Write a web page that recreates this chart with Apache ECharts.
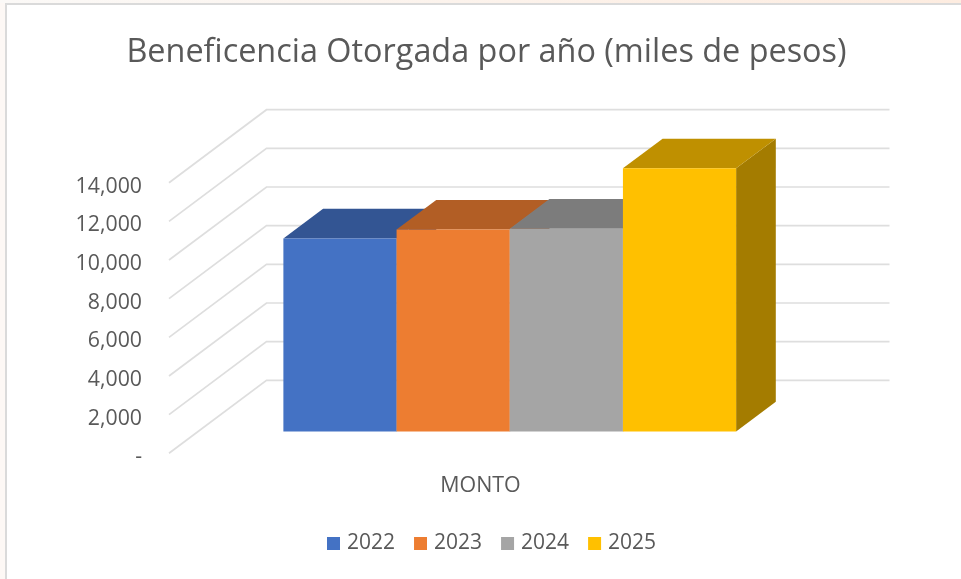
<!DOCTYPE html>
<html>
<head>
<meta charset="utf-8">
<style>html,body{margin:0;padding:0;background:#fff}#c{width:961px;height:579px}</style>
<script src="https://cdn.jsdelivr.net/npm/echarts@6/dist/echarts.min.js"></script>
</head>
<body>
<div id="c"></div>
<script>
const titleText = 'Beneficencia Otorgada por año (miles de pesos)';
const categories = ['MONTO'];
const years = ['2022', '2023', '2024', '2025'];
const values2022 = [9980];
const values2023 = [10440];
const values2024 = [10490];
const values2025 = [13610];
const yTicks = [0, 2000, 4000, 6000, 8000, 10000, 12000, 14000];
const frontColors = ['#4472C4', '#ED7D31', '#A5A5A5', '#FFC000'];
const topColors = ['#335593', '#B25E25', '#7C7C7C', '#BF9000'];
const sideColors = ['#2C4A80', '#9A5120', '#6B6B6B', '#A47C00'];
const seriesValues = [values2022, values2023, values2024, values2025];

// 3D projection constants
const WALL_DX = 97.5, WALL_DY = -73;      // full floor depth
const BAR_T0 = 0.30, BAR_T1 = 0.707;      // bar depth range within the floor
const BAR_SPAN = 0.7267;                  // share of the band taken by the bars

const textColor = '#595959';
const fontFamily = '"Open Sans","Noto Sans",sans-serif';

function renderGrid(params, api) {
  const p = api.coord([0, api.value(0)]);
  const cs = params.coordSys;
  const style = { stroke: '#DEDEDE', lineWidth: 1.7, fill: null };
  return {
    type: 'polyline',
    silent: true,
    shape: { points: [[cs.x, p[1]], [cs.x + WALL_DX, p[1] + WALL_DY], [cs.x + cs.width + WALL_DX, p[1] + WALL_DY]] },
    style
  };
}

function makeBarRenderer(i) {
  return function (params, api) {
    const top = api.coord([0, api.value(1)]);
    const base = api.coord([0, 0]);
    const band = api.size([1, 0])[0];
    const w = band * BAR_SPAN / years.length;
    const x0 = top[0] - band * BAR_SPAN / 2 + i * w + WALL_DX * BAR_T0;
    const x1 = x0 + w;
    const yT = top[1] + WALL_DY * BAR_T0;
    const yB = base[1] + WALL_DY * BAR_T0;
    const dx = WALL_DX * (BAR_T1 - BAR_T0);
    const dy = WALL_DY * (BAR_T1 - BAR_T0);
    return {
      type: 'group',
      children: [
        { type: 'polygon', shape: { points: [[x1, yB], [x1 + dx, yB + dy], [x1 + dx, yT + dy], [x1, yT]] }, style: { fill: sideColors[i] } },
        { type: 'polygon', shape: { points: [[x0, yT], [x0 + dx, yT + dy], [x1 + dx, yT + dy], [x1, yT]] }, style: { fill: topColors[i] } },
        { type: 'rect', shape: { x: x0, y: yT, width: w, height: yB - yT }, style: { fill: frontColors[i] } }
      ]
    };
  };
}

const chart = echarts.init(document.getElementById('c'), null, { renderer: 'canvas' });
chart.setOption({
  animation: false,
  backgroundColor: '#FFFFFF',
  title: {
    text: titleText,
    left: 481.5,
    top: 32,
    textAlign: 'center',
    textStyle: { color: textColor, fontFamily, fontSize: 32.4, fontWeight: 'normal' }
  },
  legend: {
    data: years,
    left: 327,
    top: 533,
    padding: 0,
    icon: 'rect',
    itemWidth: 13,
    itemHeight: 13,
    itemGap: 19,
    textStyle: { color: textColor, fontFamily, fontSize: 21, padding: [0, 0, 0, 2] }
  },
  grid: { left: 169, right: 169, top: 182.7, height: 270.6, containLabel: false },
  xAxis: {
    type: 'category',
    data: categories,
    axisLine: { show: false },
    axisTick: { show: false },
    axisLabel: { color: textColor, fontFamily, fontSize: 21.4, margin: 22 }
  },
  yAxis: {
    type: 'value',
    min: 0,
    max: 14000,
    interval: 2000,
    axisLine: { show: false },
    axisTick: { show: false },
    splitLine: { show: false },
    axisLabel: {
      color: textColor,
      fontFamily,
      fontSize: 21.3,
      margin: 27,
      verticalAlign: 'top',
      lineHeight: 8,
      formatter: v => v === 0 ? '-' : v.toLocaleString('en-US')
    }
  },
  series: [
    {
      type: 'custom',
      name: 'grid',
      coordinateSystem: 'cartesian2d',
      silent: true,
      renderItem: renderGrid,
      encode: { y: 0 },
      data: yTicks.map(v => [v]),
      z: 1
    }
  ].concat(years.map((y, i) => ({
    type: 'custom',
    name: y,
    coordinateSystem: 'cartesian2d',
    renderItem: makeBarRenderer(i),
    encode: { x: 0, y: 1 },
    data: seriesValues[i].map((v, k) => [k, v]),
    itemStyle: { color: frontColors[i] },
    z: 2 + i
  }))),
  graphic: [
    { type: 'rect', silent: true, z: 100, shape: { x: 6, y: 4, width: 1200, height: 1200 }, style: { fill: null, stroke: '#DADADA', lineWidth: 2 } },
    { type: 'rect', silent: true, z: 100, shape: { x: 0, y: 0, width: 5, height: 579 }, style: { fill: '#FDF8F5' } },
    { type: 'rect', silent: true, z: 100, shape: { x: 0, y: 0, width: 961, height: 3 }, style: { fill: { type: 'linear', x: 0, y: 0, x2: 1, y2: 0, colorStops: [{ offset: 0, color: '#FBF9F7' }, { offset: 1, color: '#FDECE0' }] } } }
  ]
});
</script>
</body>
</html>
